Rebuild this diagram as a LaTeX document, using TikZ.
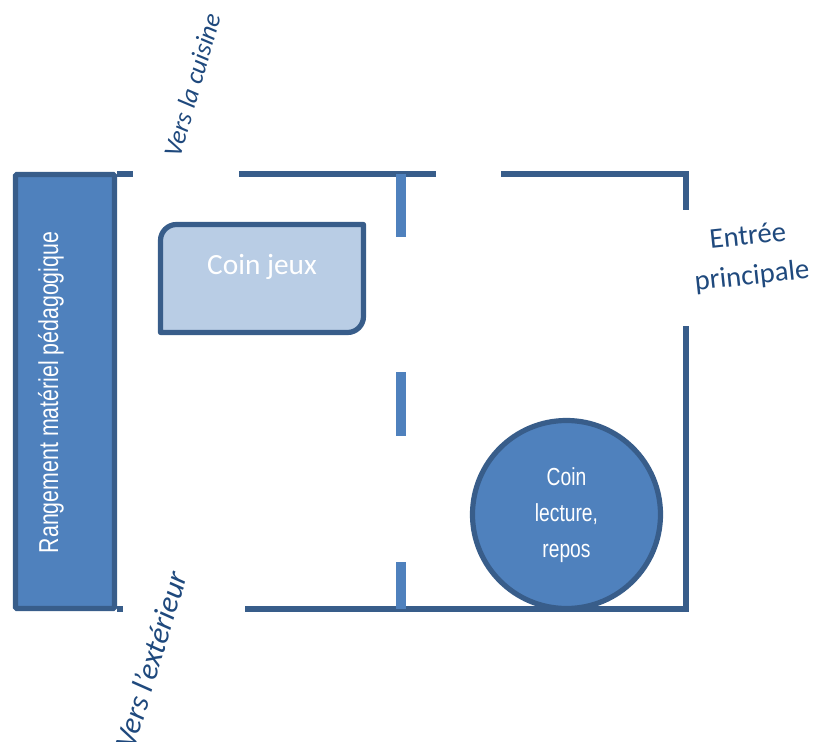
\documentclass[tikz,border=0pt]{standalone}
\usepackage{fontspec}
\setmainfont{Carlito}
\newfontfamily\narrowf[FakeStretch=0.78]{Liberation Sans}
\definecolor{edgeblue}{HTML}{385D8A}
\definecolor{fillblue}{HTML}{4F81BD}
\definecolor{lightblue}{HTML}{B9CDE5}
\definecolor{textblue}{HTML}{1F497D}
\tikzset{
 wall/.style={draw=edgeblue,line width=3.9pt,line cap=butt,line join=miter},
 partition/.style={draw=fillblue,line width=7.4pt},
 zone/.style={draw=edgeblue,line width=3.9pt},
 note/.style={text=textblue,align=center},
 lab/.style={text=white,align=center}
}
\begin{document}
\begin{tikzpicture}[x=0.75pt,y=-0.75pt]
\useasboundingbox (0,0) rectangle (822,742);
\coordinate (t0) at (117,174); \coordinate (t1) at (133,174);
\coordinate (t2) at (239,174); \coordinate (t3) at (436,174);
\coordinate (t4) at (501,174); \coordinate (t5) at (686,174);
\coordinate (r1) at (686,210); \coordinate (r2) at (686,326);
\coordinate (b1) at (686,609); \coordinate (b2) at (245,609);
\coordinate (b3) at (117,609); \coordinate (b4) at (123,609);
\draw[wall] (t0)--(t1);
\draw[wall] (t2)--(t3);
\draw[wall] (t4)--(t5)--(r1);
\draw[wall] (r2)--(b1)--(b2);
\draw[wall] (b3)--(b4);
\node[draw=edgeblue,fill=fillblue,line width=3.9pt,inner sep=0pt,rotate=90,minimum height=74.25pt,minimum width=325.5pt,rounded corners=1pt] (store) at (65,391.5) {};
\node[lab,rotate=90,font=\narrowf\fontsize{20.5}{25}\selectfont] (storetext) at (51,392.5) {Rangement matériel pédagogique};
\draw[partition] (401,174)--(401,237) (401,372)--(401,436) (401,562)--(401,609);
\draw[zone,fill=lightblue,line join=round] (160.5,332.5) [rounded corners=12pt] -- (160.5,224.5) [sharp corners] -- (363.5,224.5) [rounded corners=12pt] -- (363.5,332.5) [sharp corners] -- cycle;
\node[lab,font=\fontsize{22}{26}\selectfont] (jeux) at (262,267) {Coin jeux};
\node[circle,draw=edgeblue,fill=fillblue,line width=3.9pt,minimum size=141pt,inner sep=0pt] (lecture) at (566.5,514.5) {};
\node[lab,font=\narrowf\fontsize{18.5}{27}\selectfont] (lecturetext) at (566.5,515) {Coin\\lecture,\\repos};
\node[note,rotate=74,font=\itshape\fontsize{19.5}{23}\selectfont] (cuisine) at (192,85) {Vers la cuisine};
\node[note,rotate=73,font=\itshape\fontsize{23}{27}\selectfont] (ext) at (151,660) {Vers l’extérieur};
\node[note,rotate=6,font=\fontsize{21.5}{30}\selectfont] (entree) at (750,257) {Entrée\\principale};
\end{tikzpicture}
\end{document}
